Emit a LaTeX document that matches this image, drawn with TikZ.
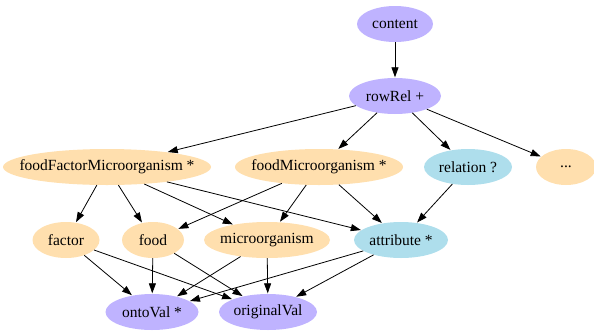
\documentclass[tikz,border=0pt]{standalone}
\usepackage{fontspec}
\setmainfont{Liberation Serif}
\usetikzlibrary{arrows.meta,shapes.geometric}
\definecolor{cpurple}{HTML}{BFB3FF}
\definecolor{corange}{HTML}{FFDFAE}
\definecolor{cblue}{HTML}{AEDEEC}
\newcommand{\zb}[1]{\makebox[0pt]{#1}}
\begin{document}
\begin{tikzpicture}[x=1pt,y=-1pt,
  nd/.style={ellipse,inner sep=0pt,minimum height=36pt,font=\fontsize{15.5}{18}\selectfont},
  pu/.style={nd,fill=cpurple},
  og/.style={nd,fill=corange},
  bl/.style={nd,fill=cblue},
  ar/.style={-{Triangle[length=10pt,width=7pt]},line width=0.8pt,shorten >=0.5pt}]
\useasboundingbox (0,0) rectangle (594,330);
\node[pu,minimum width=76pt] (content) at (395,24) {\zb{content}};
\node[pu,minimum width=92pt] (rowrel) at (395,96) {\zb{rowRel +}};
\node[og,minimum width=208pt] (ffm) at (107,167) {\zb{foodFactorMicroorganism *}};
\node[og,minimum width=168pt] (fm) at (319,167) {\zb{foodMicroorganism *}};
\node[bl,minimum width=88pt] (rel) at (468,167) {\zb{relation ?}};
\node[og,minimum width=60pt] (dots) at (566,167) {\zb{...}};
\node[og,minimum width=67pt] (factor) at (66,240) {\zb{factor}};
\node[og,minimum width=62pt] (food) at (153,240) {\zb{food}};
\node[og,minimum width=126pt] (micro) at (267,240) {\zb{microorganism}};
\node[bl,minimum width=94pt] (attr) at (401,240) {\zb{attribute *}};
\node[pu,minimum width=93pt] (onto) at (152,312) {\zb{ontoVal *}};
\node[pu,minimum width=98pt] (orig) at (268,312) {\zb{originalVal}};
\draw[ar] (content) -- (rowrel);
\draw[ar] (rowrel) -- (ffm);
\draw[ar] (rowrel) -- (fm);
\draw[ar] (rowrel) -- (rel);
\draw[ar] (rowrel) -- (dots);
\draw[ar] (ffm) -- (factor);
\draw[ar] (ffm) -- (food);
\draw[ar] (ffm) -- (micro);
\draw[ar] (ffm) -- (attr);
\draw[ar] (fm) -- (food);
\draw[ar] (fm) -- (micro);
\draw[ar] (fm) -- (attr);
\draw[ar] (rel) -- (attr);
\draw[ar] (factor) -- (onto);
\draw[ar] (factor) -- (orig);
\draw[ar] (food) -- (onto);
\draw[ar] (food) -- (orig);
\draw[ar] (micro) -- (onto);
\draw[ar] (micro) -- (orig);
\draw[ar] (attr) -- (onto);
\draw[ar] (attr) -- (orig);
\end{tikzpicture}
\end{document}
